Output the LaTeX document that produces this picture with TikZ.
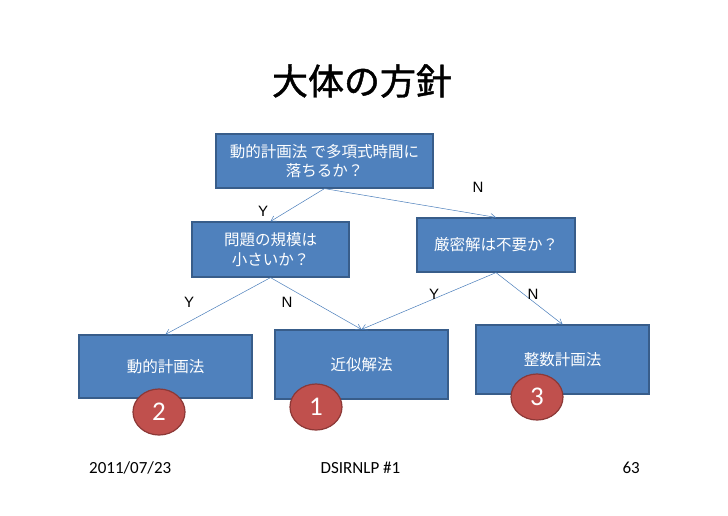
\documentclass[tikz,border=0pt]{standalone}
\usepackage{fontspec}
\usetikzlibrary{shapes.geometric,arrows.meta}
\newfontfamily\jpfont{Noto Sans CJK JP}
\newfontfamily\jptitle[FakeBold=1.2]{Noto Sans CJK JP}
\newfontfamily\cfont{Carlito}
\newfontfamily\afont{Liberation Sans}
\definecolor{boxfill}{HTML}{4F81BD}
\definecolor{boxline}{HTML}{385D8A}
\definecolor{redfill}{HTML}{C0504D}
\definecolor{redline}{HTML}{8C3836}
\definecolor{arrcol}{HTML}{4A7EBB}
\begin{document}
\begin{tikzpicture}[x=1pt,y=-1pt,
  box/.style={draw=boxline,fill=boxfill,line width=1.2pt,text=white,
    font=\jpfont\fontsize{15.5}{19.5}\selectfont,align=center,inner sep=0pt},
  badge/.style={ellipse,draw=redline,fill=redfill,line width=1.2pt,text=white,
    minimum width=52pt,minimum height=46pt,inner sep=0pt,
    font=\cfont\fontsize{27}{27}\selectfont},
  arr/.style={draw=arrcol,line width=0.5pt,-{Straight Barb[length=5pt,width=6pt]}},
  yn/.style={font=\afont\fontsize{15}{15}\selectfont,inner sep=0pt},
  foot/.style={font=\cfont\fontsize{17}{17}\selectfont,inner sep=0pt}]
\useasboundingbox (0,0) rectangle (728,515);
\fill[white] (0,0) rectangle (728,515);
\node[font=\jptitle\fontsize{36}{36}\selectfont,inner sep=0pt] (title) at (362,81) {大体の方針};

\node[box,minimum width=217pt,minimum height=54pt] (top) at (324.5,161) {動的計画法 で多項式時間に\\落ちるか？};
\node[box,minimum width=157pt,minimum height=55pt] (lm) at (270.5,249.5) {問題の規模は\\小さいか？};
\node[box,minimum width=158pt,minimum height=54pt] (rm) at (496,245) {厳密解は不要か？};
\node[box,minimum width=173pt,minimum height=63pt] (bl) at (165.5,366.5) {動的計画法};
\node[box,minimum width=173pt,minimum height=69pt] (bm) at (361.5,364.5) {近似解法};
\node[box,minimum width=173pt,minimum height=69pt] (br) at (562.5,359.5) {整数計画法};

\draw[arr] (top.south) -- (lm.north);
\draw[arr] (top.south) -- (rm.north);
\draw[arr] (lm.south) -- (bl.north);
\draw[arr] (lm.south) -- (bm.north);
\draw[arr] (rm.south) -- (bm.north);
\draw[arr] (rm.south) -- (br.north);

\node[yn] (y1) at (263,211) {Y};
\node[yn] (n1) at (478,187) {N};
\node[yn] (y2) at (189,302) {Y};
\node[yn] (n2) at (287,302) {N};
\node[yn] (y3) at (434,294) {Y};
\node[yn] (n3) at (533,294) {N};

\node[badge] (c2) at (159,412) {2};
\node[badge] (c1) at (316,407) {1};
\node[badge] (c3) at (537,397) {3};

\node[foot,anchor=west] (date) at (89,468) {2011/07/23};
\node[foot] (event) at (360.5,468) {DSIRNLP \#1};
\node[foot,anchor=east] (page) at (640,468) {63};
\end{tikzpicture}
\end{document}
